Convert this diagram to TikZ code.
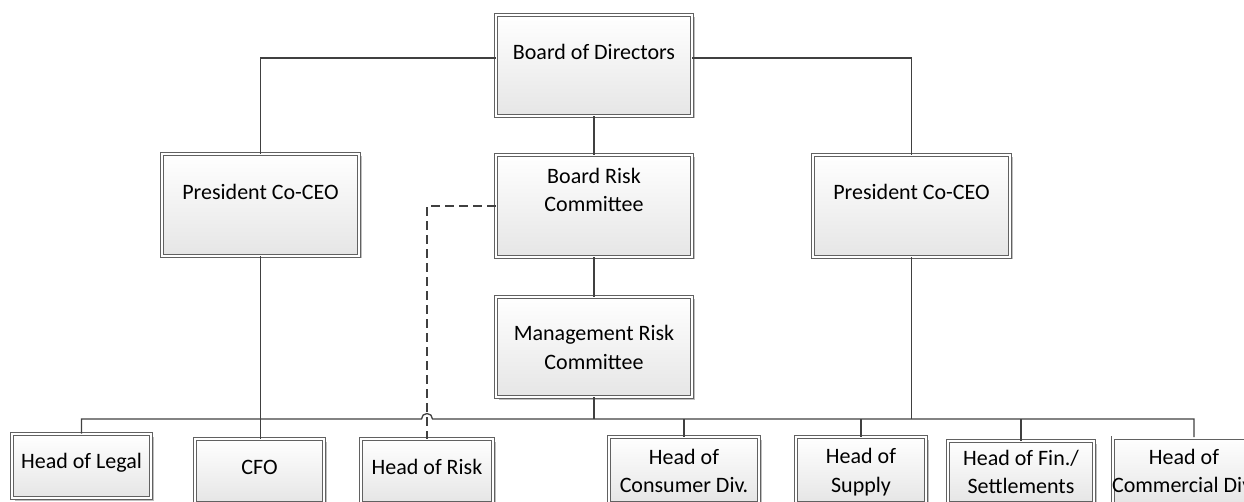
\documentclass[tikz,border=0pt]{standalone}
\usepackage{fontspec}
\setmainfont{Carlito}
\usetikzlibrary{shadows}
\tikzset{
  orgbox/.style={draw=black!62, line width=0.8pt, double=white, double distance=2.4pt,
    top color=white, bottom color=black!10, inner sep=0pt,
    drop shadow={shadow xshift=2.5pt, shadow yshift=-2.5pt, fill=black!25, opacity=1}},
  lbl/.style={font=\fontsize{22}{28.5}\selectfont, align=center, inner sep=0pt, text=black},
  conn/.style={draw=black!75, line width=1.3pt},
}
\begin{document}
\begin{tikzpicture}[x=1pt,y=-1pt]
\useasboundingbox (0,0) rectangle (1244,502);
\clip (0,0) rectangle (1244,502);
% boxes
\node[orgbox, minimum width=196pt, minimum height=101pt] (bod) at (594,65.5) {};
\node[lbl] (bodt) at (594,52) {Board of Directors};
\node[orgbox, minimum width=197pt, minimum height=102pt] (pl) at (260.5,205) {};
\node[lbl] (plt) at (260.5,192) {President Co-CEO};
\node[orgbox, minimum width=197pt, minimum height=102pt] (pr) at (911.5,206) {};
\node[lbl] (prt) at (911.5,192) {President Co-CEO};
\node[orgbox, minimum width=196pt, minimum height=102pt] (brc) at (594,206) {};
\node[lbl] (brct) at (594,190) {Board Risk\\Committee};
\node[orgbox, minimum width=196pt, minimum height=100pt] (mrc) at (594,347) {};
\node[lbl] (mrct) at (594,347.5) {Management Risk\\Committee};
\node[orgbox, minimum width=139pt, minimum height=64pt] (legal) at (81.5,466) {};
\node[lbl] (legalt) at (81.5,463) {Head of Legal};
\node[orgbox, minimum width=129pt, minimum height=64pt] (cfo) at (259.5,471) {};
\node[lbl] (cfot) at (259.5,467) {CFO};
\node[orgbox, minimum width=132pt, minimum height=64pt] (risk) at (427,471) {};
\node[lbl] (riskt) at (427,467) {Head of Risk};
\node[orgbox, minimum width=150pt, minimum height=66pt] (cons) at (684,470) {};
\node[lbl] (const) at (684,471) {Head of\\Consumer Div.};
\node[orgbox, minimum width=130pt, minimum height=66pt] (supply) at (861,470) {};
\node[lbl] (supplyt) at (861,472) {Head of\\Supply};
\node[orgbox, minimum width=146pt, minimum height=62pt] (fin) at (1021,472) {};
\node[lbl] (fint) at (1021,472) {Head of Fin./\\Settlements};
\node[orgbox, minimum width=162pt, minimum height=66pt] (comm) at (1194,470.5) {};
\node[lbl] (commt) at (1184,471) {Head of\\Commercial Div.};
\coordinate (bus) at (594,419);
% connectors
\draw[conn] ([yshift=7.5pt]bod.west) -| (pl.north);
\draw[conn] ([yshift=7.5pt]bod.east) -| (pr.north);
\draw[conn] (bod.south) -- (brc.north);
\draw[conn] (brc.south) -- (mrc.north);
\draw[conn] (mrc.south) -- (mrc.south |- bus);
\draw[conn] (legal.north) |- ([xshift=-5.5pt]risk.north |- bus) arc[start angle=180, end angle=0, radius=5.5pt] -| (comm.north);
\draw[conn] (pl.south) -- (pl.south |- cfo.north);
\draw[conn] (pr.south) -- (pr.south |- bus);
\draw[conn] (cons.north) -- (cons.north |- bus);
\draw[conn] (supply.north) -- (supply.north |- bus);
\draw[conn] (fin.north) -- (fin.north |- bus);
\draw[conn, dash pattern=on 9pt off 5pt] (brc.west) -| (risk.north);
\end{tikzpicture}
\end{document}
